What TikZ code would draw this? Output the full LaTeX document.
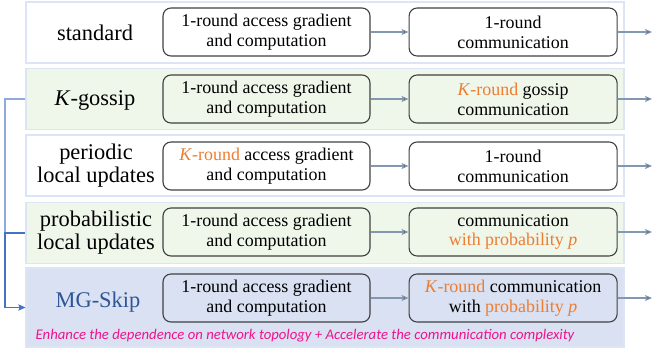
\documentclass[tikz,border=0pt]{standalone}
\usepackage{fontspec}
\setmainfont{Liberation Serif}
\newfontfamily\notefont{Carlito}
\usetikzlibrary{arrows,arrows.meta,positioning}
\definecolor{kround}{RGB}{237,125,49}
\definecolor{bandline}{RGB}{220,229,244}
\definecolor{greenfill}{RGB}{239,246,234}
\definecolor{bluefill}{RGB}{217,225,242}
\definecolor{flow}{RGB}{132,151,176}
\definecolor{railblue}{RGB}{68,114,196}
\definecolor{skipblue}{RGB}{47,85,151}
\definecolor{notepink}{RGB}{240,20,140}
\newcommand{\kr}[1]{\textcolor{kround}{#1}}

\begin{document}
\begin{tikzpicture}[x=1bp,y=-1bp,>={Stealth[length=7bp,width=6bp,inset=1.5bp]},node distance=38bp,
  band/.style={draw=bandline,line width=1.2bp,minimum width=598bp,minimum height=61bp,inner sep=0pt},
  stage/.style={draw=black!75,line width=1.1bp,rounded corners=8bp,minimum width=207bp,minimum height=48bp,align=center,inner sep=0pt,font=\fontsize{18}{20}\selectfont},
  method/.style={align=center,inner sep=0pt,font=\fontsize{22.5}{23}\selectfont},
  flowarrow/.style={->,draw=flow,line width=1.1bp}]

\useasboundingbox (0,0) rectangle (652,349);

% rows
\node[band]                              (standard) at (325,32.5)  {};
\node[band,fill=greenfill]               (gossip)   at (325,99)    {};
\node[band]                              (periodic) at (325,165.5) {};
\node[band,fill=greenfill]               (prob)     at (325,233)   {};
\node[band,fill=bluefill,minimum height=79bp] (skip) at (325,307.5) {};

% method names
\node[method]                  (standardname) at (95,33)  {standard};
\node[method]                  (gossipname)   at (95,100) {\textit{K}-gossip};
\node[method]                  (periodicname) at (96,166) {periodic\\local updates};
\node[method]                  (probname)     at (96,233) {probabilistic\\local updates};
\node[method,text=skipblue]    (skipname)     at (98,302) {MG-Skip};

% stages
\node[stage]                   (grad1) at (266.5,32)  {1-round access gradient\\and computation};
\node[stage,fill=greenfill]    (grad2) at (266.5,99)  {1-round access gradient\\and computation};
\node[stage]                   (grad3) at (266.5,166) {\kr{\textit{K}-round} access gradient\\and computation};
\node[stage,fill=greenfill]    (grad4) at (266.5,232) {1-round access gradient\\and computation};
\node[stage,fill=bluefill]     (grad5) at (266.5,298) {1-round access gradient\\and computation};

\node[stage,minimum width=208bp]                 (comm1) [right=of grad1] {1-round\\communication};
\node[stage,minimum width=208bp,fill=greenfill]  (comm2) [right=of grad2] {\kr{\textit{K}-round} gossip\\communication};
\node[stage,minimum width=208bp]                 (comm3) [right=of grad3] {1-round\\communication};
\node[stage,minimum width=208bp,fill=greenfill]  (comm4) [right=of grad4] {communication\\\kr{with probability \textit{p}}};
\node[stage,minimum width=208bp,fill=bluefill]   (comm5) [right=of grad5] {\kr{\textit{K}-round} communication\\with \kr{probability \textit{p}}};

\node[text=notepink,inner sep=0pt,font=\notefont\itshape\fontsize{14.8}{17}\selectfont] (note) at (305,336)
  {Enhance the dependence on network topology + Accelerate the communication complexity};

\coordinate (out1) at (652,32);
\coordinate (out2) at (652,99);
\coordinate (out3) at (652,166);
\coordinate (out4) at (652,232);
\coordinate (out5) at (652,298);
\coordinate (rail) at (5,0);

\path[flowarrow] (grad1) edge (comm1)  (comm1) edge (out1)
                 (grad2) edge (comm2)  (comm2) edge (out2)
                 (grad3) edge (comm3)  (comm3) edge (out3)
                 (grad4) edge (comm4)  (comm4) edge (out4)
                 (grad5) edge (comm5)  (comm5) edge (out5);

\draw[->,draw=railblue!60,line width=1.1bp] (gossip.west) -- (gossip.west -| rail) |- (skip.west);
\draw[->,draw=railblue,line width=1.1bp] (prob.west) -- (prob.west -| rail) |- (skip.west);
\end{tikzpicture}
\end{document}
